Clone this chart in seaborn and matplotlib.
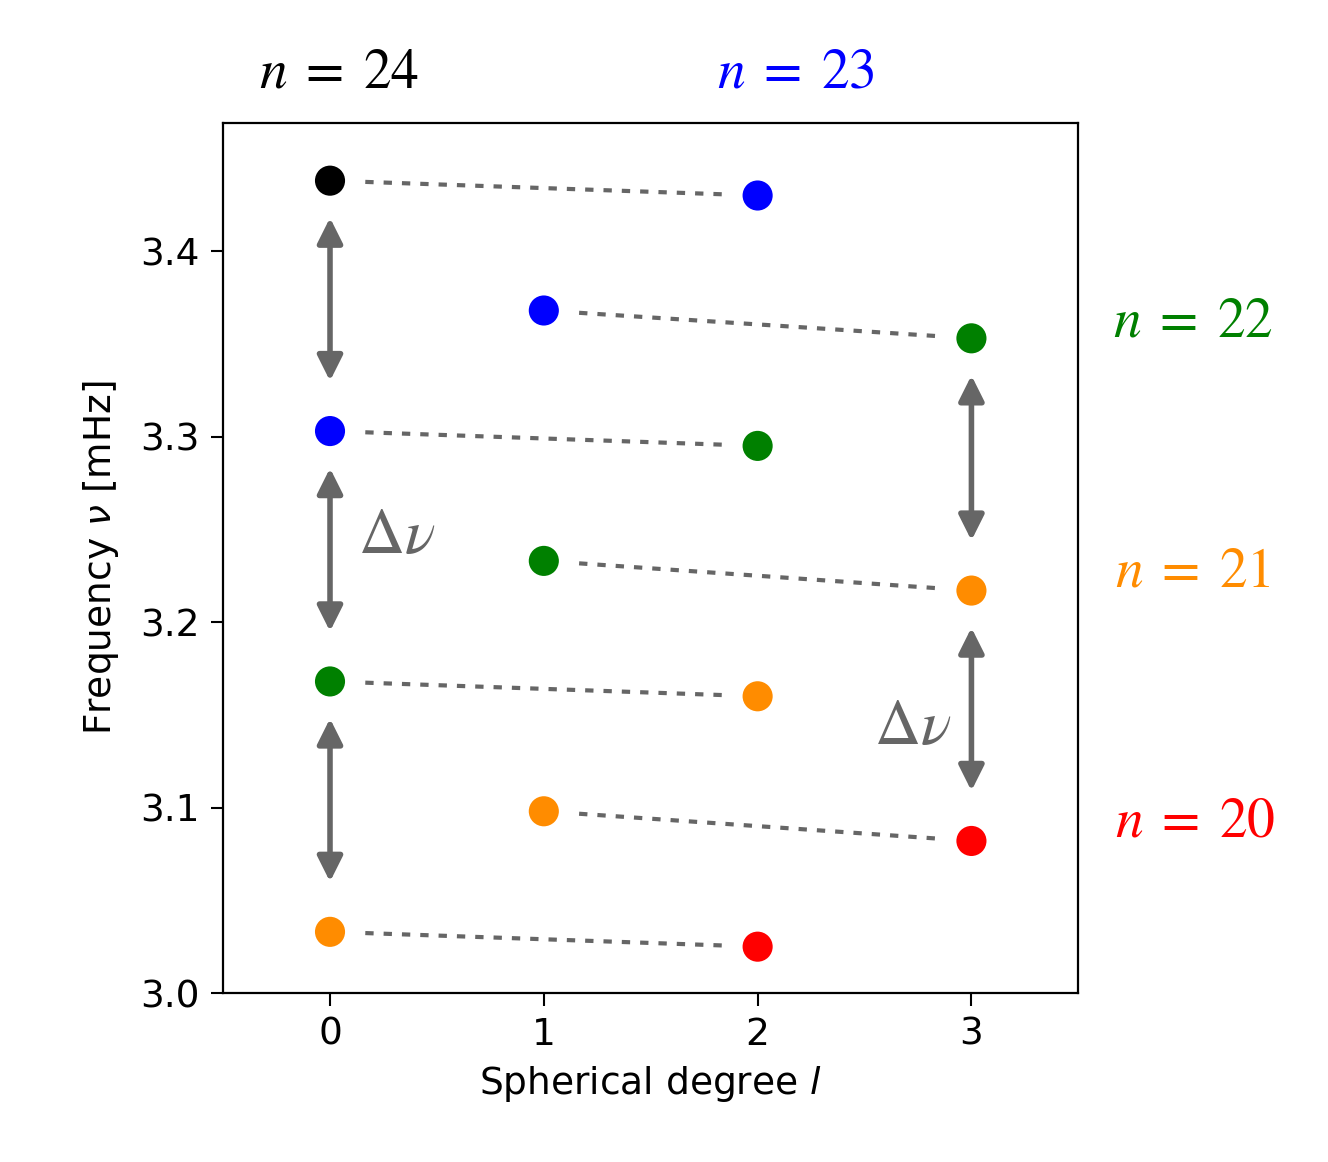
import numpy as np
import pandas as pd
import matplotlib
matplotlib.use("Agg")
import matplotlib.pyplot as plt
import seaborn as sns

# frequencies [mHz], per spherical degree l
l0_freq = [3.438, 3.303, 3.168, 3.033]
l0_n = [24, 23, 22, 21]
l1_freq = [3.368, 3.233, 3.098]
l1_n = [23, 22, 21]
l2_freq = [3.430, 3.295, 3.160, 3.025]
l2_n = [23, 22, 21, 20]
l3_freq = [3.353, 3.217, 3.082]
l3_n = [22, 21, 20]

n_colors = {24: "black", 23: "blue", 22: "green", 21: "darkorange", 20: "red"}
n_label_pos = {24: (0.255, 0.938), 23: (0.599, 0.938), 22: (0.898, 0.723),
               21: (0.898, 0.508), 20: (0.900, 0.293)}

sns.set_style("ticks")
plt.rcParams["font.family"] = ["DejaVu Sans"]
plt.rcParams["text.color"] = "black"
plt.rcParams["axes.labelcolor"] = "black"
plt.rcParams["xtick.color"] = "black"
plt.rcParams["ytick.color"] = "black"
plt.rcParams["axes.edgecolor"] = "black"

rows = []
for l, freqs, ns in [(0, l0_freq, l0_n), (1, l1_freq, l1_n),
                     (2, l2_freq, l2_n), (3, l3_freq, l3_n)]:
    for f, n in zip(freqs, ns):
        rows.append({"l": l, "freq": f, "n": n})
df = pd.DataFrame(rows)

fig = plt.figure(figsize=(13.28, 11.62), dpi=100)
ax = fig.add_axes([0.168, 0.1454, 0.644, 0.7486])

gray = "#666666"

# dashed connectors between l and l+2
def connect(x0, ys0, x1, ys1):
    off = 0.165
    for a, b in zip(ys0, ys1):
        xs = np.array([x0 + off, x1 - off])
        ys = a + (b - a) * (xs - x0) / (x1 - x0)
        ax.plot(xs, ys, color=gray, lw=3.0, dashes=(2.0, 2.4), zorder=1)

connect(0, l0_freq, 2, l2_freq)
connect(1, l1_freq, 3, l3_freq)

# large frequency separation arrows
def spacing_arrows(x, freqs):
    for hi, lo in zip(freqs[:-1], freqs[1:]):
        ax.annotate("", xy=(x, lo + 0.027), xytext=(x, hi - 0.02),
                    arrowprops=dict(arrowstyle="<|-|>,head_length=0.4,head_width=0.2",
                                    color=gray, lw=4, mutation_scale=38,
                                    shrinkA=0, shrinkB=0))

spacing_arrows(0, l0_freq)
spacing_arrows(3, l3_freq)

sns.scatterplot(data=df, x="l", y="freq", hue="n", palette=n_colors,
                s=470, linewidth=0, legend=False, ax=ax, zorder=3)

ax.text(0.13, 3.247, r"$\Delta\nu$", color=gray, fontsize=46,
        math_fontfamily="stix", va="center", ha="left")
ax.text(2.545, 3.144, r"$\Delta\nu$", color=gray, fontsize=46,
        math_fontfamily="stix", va="center", ha="left")

for n, (fx, fy) in n_label_pos.items():
    fig.text(fx, fy, r"$n\;=\;%d$" % n, color=n_colors[n], fontsize=40,
             math_fontfamily="stix", ha="center", va="center")

ax.set_xlim(-0.5, 3.5)
ax.set_ylim(3.0, 3.469)
ax.set_xticks([0, 1, 2, 3])
ax.set_yticks([3.0, 3.1, 3.2, 3.3, 3.4])
ax.set_xlabel(r"Spherical degree $l$", fontsize=27, labelpad=8)
ax.set_ylabel(r"Frequency $\nu$ [mHz]", fontsize=27, labelpad=14)
ax.tick_params(labelsize=27, length=9, width=1.5, pad=8)
for sp in ax.spines.values():
    sp.set_linewidth(1.6)
    sp.set_visible(True)

fig.savefig("out.png", dpi=100, facecolor="white")
